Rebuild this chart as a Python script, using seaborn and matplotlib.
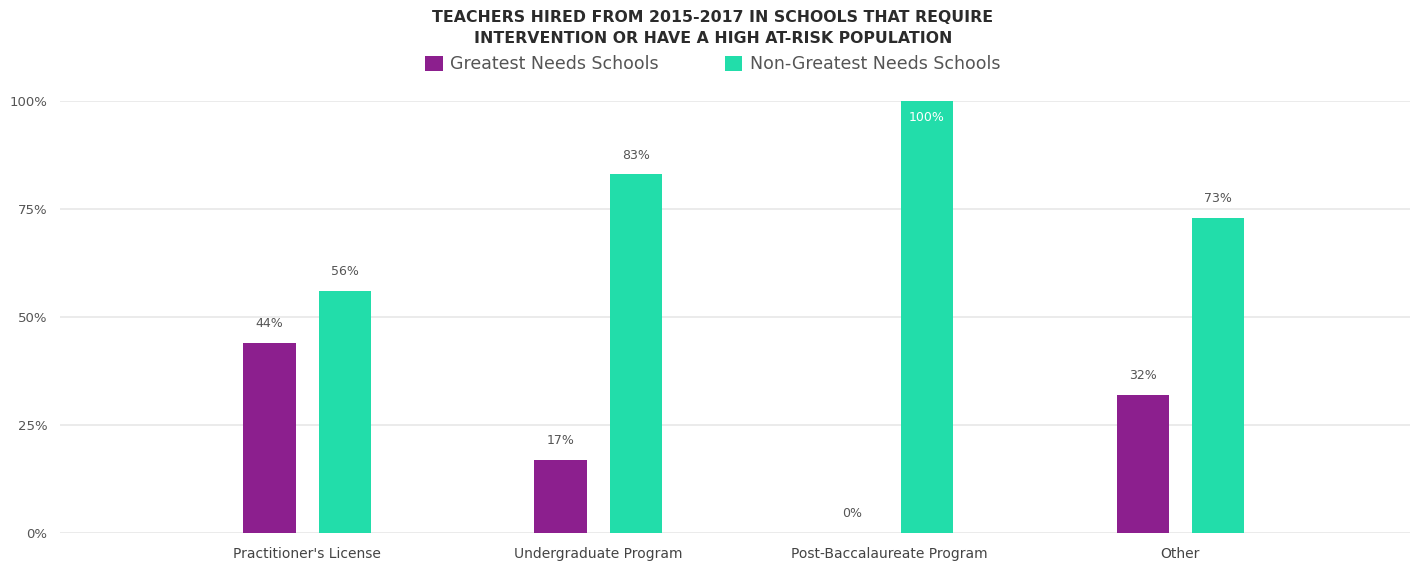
import matplotlib
matplotlib.use("Agg")
import matplotlib.pyplot as plt
from matplotlib.patches import Patch
import seaborn as sns
import pandas as pd

categories = ["Practitioner's License", "Undergraduate Program", "Post-Baccalaureate Program", "Other"]
greatest_needs = [44, 17, 0, 32]
non_greatest_needs = [56, 83, 100, 73]
series_names = ["Greatest Needs Schools", "Non-Greatest Needs Schools"]
y_ticks = [0, 25, 50, 75, 100]
title = "TEACHERS HIRED FROM 2015-2017 IN SCHOOLS THAT REQUIRE\nINTERVENTION OR HAVE A HIGH AT-RISK POPULATION"

colors = {"Greatest Needs Schools": "#8C1F8E", "Non-Greatest Needs Schools": "#22DDAA"}

df = pd.DataFrame({
    "category": categories * 2,
    "series": [series_names[0]] * len(categories) + [series_names[1]] * len(categories),
    "value": greatest_needs + non_greatest_needs,
})

sns.set_theme(style="white")
plt.rcParams["font.family"] = ["DejaVu Sans"]

fig = plt.figure(figsize=(14.26, 5.65), dpi=100)
ax = fig.add_axes([0.042, 0.0566, 0.947, 0.7646])

sns.barplot(data=df, x="category", y="value", hue="series", order=categories,
            hue_order=series_names, palette=colors, width=0.516, gap=0.3,
            saturation=1, legend=False, linewidth=0, edgecolor="none", ax=ax)

ax.set_xlim(-0.85, 3.79)
ax.set_ylim(0, 100)
ax.set_yticks(y_ticks)
ax.set_yticklabels([f"{t}%" for t in y_ticks])
ax.set_xlabel("")
ax.set_ylabel("")
ax.grid(axis="y", color="#e8e8e8", linewidth=1.2)
ax.set_axisbelow(True)
for s in ax.spines.values():
    s.set_visible(False)
ax.tick_params(axis="y", labelsize=9.5, colors="#555555", pad=9, length=0)
ax.tick_params(axis="x", labelsize=10, colors="#444444", pad=10, length=0)

for cont, vals in zip(ax.containers, [greatest_needs, non_greatest_needs]):
    for bar, v in zip(cont, vals):
        cx = bar.get_x() + bar.get_width() / 2
        h = bar.get_height()
        if v >= 95:
            ax.annotate(f"{v}%", (cx, h), xytext=(0, -12), textcoords="offset points",
                        ha="center", va="center", fontsize=9, color="white")
        else:
            ax.annotate(f"{v}%", (cx, h), xytext=(0, 14), textcoords="offset points",
                        ha="center", va="center", fontsize=9, color="#555555")

fig.text(0.5, 0.982, title, ha="center", va="top", fontsize=11.3, fontweight="bold",
         color="#2b2b2b", linespacing=1.45)

handles = [Patch(facecolor=colors[n], edgecolor="none") for n in series_names]
fig.legend(handles, series_names, loc="center", bbox_to_anchor=(0.5, 0.886), ncol=2,
           frameon=False, fontsize=12.5, labelcolor="#555555", handlelength=1.0,
           handleheight=1.0, handletextpad=0.45, columnspacing=3.8)

fig.savefig("out.png", dpi=100)
